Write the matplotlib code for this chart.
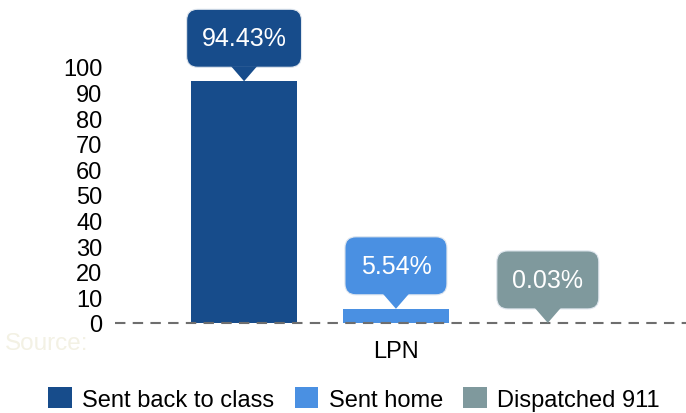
import matplotlib.pyplot as plt
from matplotlib.patches import FancyBboxPatch, Polygon
import matplotlib.transforms as mtransforms

plt.rcParams['font.family'] = ['Liberation Sans', 'DejaVu Sans']

categories = ['LPN']
series = ['Sent back to class', 'Sent home', 'Dispatched 911']
values = [94.43, 5.54, 0.03]
labels = ['94.43%', '5.54%', '0.03%']
colors = ['#174c8b', '#4a90e2', '#7f999d']

fig = plt.figure(figsize=(6.86, 4.14), dpi=100)
ax = fig.add_axes([115 / 686, 1 - 324 / 414, 1 - 115 / 686, (324 - 68) / 414])

width = 0.7
offsets = [-1, 0, 1]
for i, s in enumerate(series):
    ax.bar(offsets[i], values[i], width, color=colors[i], label=s, zorder=2)

ax.set_xlim(-1.85, 1.91)
ax.set_ylim(0, 100)
ax.set_yticks(range(0, 101, 10))
ax.set_xticks([0])
ax.set_xticklabels(categories)
ax.tick_params(axis='both', length=0, labelsize=17)
ax.tick_params(axis='y', pad=9)
ax.tick_params(axis='x', pad=12)
for sp in ax.spines.values():
    sp.set_visible(False)
ax.axhline(0, color='#6e6e6e', lw=1.5, ls=(0, (5, 3.5)), zorder=3, clip_on=False)

# callout labels
fig.canvas.draw()
renderer = fig.canvas.get_renderer()
tip_h = 14
box_h = 58
for i in range(len(values)):
    trans = mtransforms.Affine2D() + mtransforms.ScaledTranslation(offsets[i], values[i], ax.transData)
    t = ax.text(0, tip_h + box_h / 2, labels[i], transform=trans, ha='center', va='center',
                color='white', fontsize=18, zorder=6, clip_on=False)
    tw = t.get_window_extent(renderer).width
    bw = max(tw + 30, 102)
    box = FancyBboxPatch((-bw / 2, tip_h), bw, box_h,
                         boxstyle='round,pad=0,rounding_size=11',
                         transform=trans, facecolor=colors[i], edgecolor='#dfe6ee',
                         lw=0.8, zorder=5, clip_on=False)
    ax.add_patch(box)
    tri = Polygon([(-13, tip_h + 1), (13, tip_h + 1), (0, 0)], closed=True,
                  transform=trans, facecolor=colors[i], edgecolor='none', zorder=5, clip_on=False)
    ax.add_patch(tri)

fig.text(5 / 686, 1 - 344 / 414, 'Source:', fontsize=17.5, color='#f3f1e4', va='center', ha='left')

fig.legend(loc='center', bbox_to_anchor=(354 / 686, 1 - 400 / 414), ncol=3, frameon=False,
           fontsize=17, handlelength=1.0, handleheight=1.0, handletextpad=0.45,
           columnspacing=0.85, borderaxespad=0)

fig.savefig('out.png', dpi=100)
